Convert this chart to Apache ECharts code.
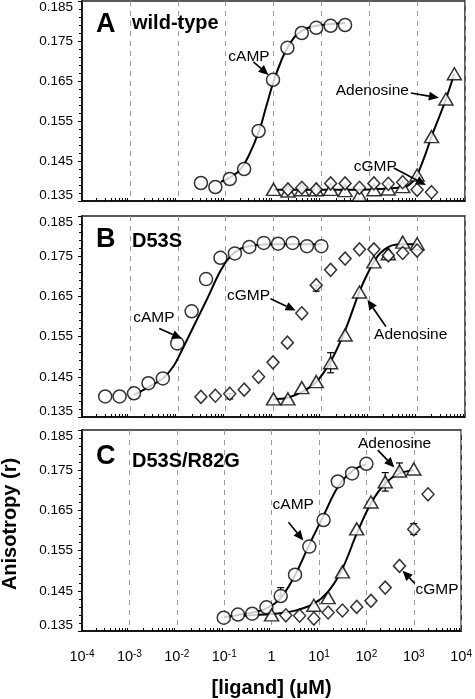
<!DOCTYPE html>
<html><head><meta charset="utf-8">
<script src="https://cdn.jsdelivr.net/npm/echarts@6/dist/echarts.min.js"></script>
<style>html,body{margin:0;padding:0;background:#fff;}#c{width:475px;height:699px;}</style>
</head><body><div id="c"></div>
<script>
// ---------------- DATA ----------------
// Panel A : wild-type
const A_cAMP_x = [0.0305, 0.061, 0.122, 0.244, 0.488, 0.977, 1.95, 3.9, 7.8, 15.6, 31.25];
const A_cAMP_y = [0.1395, 0.1385, 0.1405, 0.1430, 0.1525, 0.1653, 0.1733, 0.1770, 0.1783, 0.1788, 0.1790];
const A_aden_x = [1, 2, 3.9, 7.8, 15.6, 31.25, 62.5, 125, 250, 500, 1000, 2000, 4000, 6000];
const A_aden_y = [0.1379, 0.1375, 0.1378, 0.1378, 0.1379, 0.1376, 0.1365, 0.1378, 0.1380, 0.1386, 0.1415, 0.1511, 0.1605, 0.1668];
const A_cGMP_x = [2, 3.9, 7.8, 15.6, 31.25, 62.5, 125, 250, 500, 1000, 2000];
const A_cGMP_y = [0.1379, 0.1383, 0.1379, 0.1394, 0.1394, 0.1383, 0.1394, 0.1393, 0.1397, 0.1378, 0.1372];
// fitted curves
const A_cAMP_fit_x = [0.08, 0.12, 0.2, 0.3, 0.5, 0.7, 1.0, 1.5, 2, 3, 5, 10, 31.25];
const A_cAMP_fit_y = [0.1398, 0.1408, 0.1428, 0.1462, 0.1525, 0.1585, 0.1648, 0.1705, 0.1735, 0.1765, 0.1782, 0.1790, 0.1795];
const A_aden_fit_x = [1, 10, 100, 300, 600, 800, 1000, 1500, 2000, 3000, 4000, 6000];
const A_aden_fit_y = [0.1378, 0.1378, 0.1379, 0.1382, 0.1387, 0.1398, 0.1415, 0.1468, 0.1511, 0.1565, 0.1605, 0.1668];

// Panel B : D53S
const B_cAMP_x = [0.000305, 0.00061, 0.00122, 0.00244, 0.00488, 0.00977, 0.0195, 0.039, 0.078, 0.156, 0.3125, 0.625, 1.25, 2.5, 5, 10];
const B_cAMP_y = [0.1401, 0.1401, 0.1409, 0.1434, 0.1446, 0.1533, 0.1613, 0.1693, 0.1746, 0.1757, 0.1773, 0.1783, 0.1781, 0.1783, 0.1775, 0.1775];
const B_cGMP_x = [0.0305, 0.061, 0.122, 0.244, 0.488, 0.977, 1.95, 3.9, 7.8, 15.6, 31.25, 62.5, 125, 250, 500, 1000];
const B_cGMP_y = [0.1400, 0.1403, 0.1408, 0.1418, 0.1450, 0.1486, 0.1535, 0.1608, 0.1678, 0.1716, 0.1744, 0.1767, 0.1767, 0.1752, 0.1758, 0.1764];
const B_aden_x = [1, 2, 3.9, 7.8, 15.6, 31.25, 62.5, 125, 250, 500, 1000];
const B_aden_y = [0.1395, 0.1395, 0.1423, 0.1438, 0.1485, 0.1554, 0.1661, 0.1736, 0.1756, 0.1785, 0.1781];
const B_cAMP_fit_x = [0.00122, 0.0025, 0.005, 0.008, 0.0113, 0.0214, 0.0407, 0.0776, 0.126, 0.2, 0.4, 1, 10];
const B_cAMP_fit_y = [0.1405, 0.1425, 0.1447, 0.1475, 0.1508, 0.1575, 0.1643, 0.1713, 0.1750, 0.1768, 0.1777, 0.1780, 0.1780];
const B_aden_fit_x = [1, 2, 4, 7.8, 15.6, 31.25, 62.5, 100, 150, 210, 300, 500, 1000];
const B_aden_fit_y = [0.1395, 0.1398, 0.1413, 0.1437, 0.1488, 0.1565, 0.1662, 0.1715, 0.1750, 0.1767, 0.1777, 0.1780, 0.1780];
const B_err = [[15.6, 0.1460, 0.1510], [0.122, 0.1395, 0.1408], [7.8, 0.1663, 0.1678]];

// Panel C : D53S/R82G
const C_cAMP_x = [0.098, 0.195, 0.39, 0.78, 1.56, 3.125, 6.25, 12.5, 25, 50, 100];
const C_cAMP_y = [0.1383, 0.1391, 0.1393, 0.1409, 0.1437, 0.1490, 0.1560, 0.1626, 0.1722, 0.1742, 0.1766];
const C_aden_x = [1, 7.8, 15.6, 31.25, 62.5, 125, 250, 500, 1000];
const C_aden_y = [0.1390, 0.1414, 0.1433, 0.1497, 0.1604, 0.1671, 0.1721, 0.1748, 0.1753];
const C_cGMP_x = [2, 3.9, 7.8, 15.6, 31.25, 62.5, 125, 250, 500, 1000, 2000];
const C_cGMP_y = [0.1389, 0.1388, 0.1381, 0.1396, 0.1401, 0.1410, 0.1425, 0.1458, 0.1512, 0.1603, 0.1690];
const C_cAMP_fit_x = [0.1, 0.2, 0.4, 0.8, 1.56, 3.1, 6.25, 12.5, 25, 50, 100];
const C_cAMP_fit_y = [0.1385, 0.1390, 0.1396, 0.1407, 0.1432, 0.1488, 0.1565, 0.1637, 0.1708, 0.1748, 0.1765];
const C_aden_fit_x = [0.25, 1, 3, 7.8, 15.6, 31.25, 62.5, 125, 250, 500, 1000];
const C_aden_fit_y = [0.1388, 0.1392, 0.1400, 0.1418, 0.1448, 0.1505, 0.1592, 0.1668, 0.1717, 0.1742, 0.1750];
const C_err = [[1.56, 0.1437, 0.1458], [250, 0.1698, 0.1744], [500, 0.1748, 0.1768], [1000, 0.1590, 0.1617]];

// Annotations: [textX, textY, arrowTailX, arrowTailY, arrowHeadX, arrowHeadY]
const A_notes_text = ['cAMP', 'Adenosine', 'cGMP'];
const A_notes = [[0.114, 0.1710, 0.381, 0.1698, 0.785, 0.1665], [19.9, 0.1625, 740, 0.1620, 2850, 0.1608], [47.3, 0.1435, 326, 0.14325, 1524, 0.1390]];
const B_notes_text = ['cAMP', 'cGMP', 'Adenosine'];
const B_notes = [[0.00117, 0.1596, 0.0041, 0.1570, 0.01225, 0.1545], [0.107, 0.16525, 0.865, 0.16442, 2.89, 0.1615], [126, 0.1555, 222, 0.1575, 91.7, 0.16418]];
const C_notes_text = ['Adenosine', 'cAMP', 'cGMP'];
const C_notes = [[66.4, 0.1816, 174, 0.1800, 390, 0.1757], [1.05, 0.1665, 2.27, 0.16208, 4.68, 0.1575], [1089, 0.14525, 1052, 0.14683, 581, 0.1500]];

const panelLetters = ['A', 'B', 'C'];
const panelNames = ['wild-type', 'D53S', 'D53S/R82G'];
const yMin = 0.135, yMax = 0.185, yStep = 0.01;
const xMin = 1e-4, xMax = 1e4;

// ---------------- CHART ----------------
const FONT = '"Liberation Sans", Arial, Helvetica, sans-serif';
const chart = echarts.init(document.getElementById('c'), null, {renderer: 'canvas'});
const zip = (xs, ys) => xs.map((x, i) => [x, ys[i]]);

const grids = [
  {left: 82, top: 1, width: 383, height: 200},
  {left: 82, top: 216, width: 383, height: 201},
  {left: 82, top: 430, width: 383, height: 201}
].map(g => Object.assign(g, {show: true, borderColor: '#222', borderWidth: 1.5, backgroundColor: 'transparent', containLabel: false}));

function xAxisFor(i) {
  const last = i === 2;
  return {
    type: 'log', logBase: 10, gridIndex: i, min: xMin, max: xMax, splitNumber: 8,
    axisLine: {show: true, lineStyle: {color: '#000', width: 1.5}},
    axisTick: {show: false, inside: true, length: 4},
    minorTick: {show: true, splitNumber: 9, length: 3, lineStyle: {color: '#000', width: 1}},
    splitLine: {show: true, lineStyle: {color: '#9a9a9a', width: 1, type: [5, 5]}},
    axisLabel: {
      show: last, margin: 18, color: '#000', fontFamily: FONT, fontSize: 14,
      formatter: v => {
        const e = Math.round(Math.log10(v));
        if (e === 0) return '{b|1}';
        return '{b|10}{s|' + e + '}';
      },
      rich: {
        b: {fontSize: 14.5, lineHeight: 16, fontFamily: FONT, color: '#000'},
        s: {fontSize: 10, lineHeight: 10, verticalAlign: 'top', fontFamily: FONT, color: '#000'}
      }
    },
    name: last ? '[ligand] (\u03BCM)' : '',
    nameLocation: 'middle', nameGap: 47,
    nameTextStyle: {fontFamily: FONT, fontSize: 20, fontWeight: 'bold', color: '#000'}
  };
}
function yAxisFor(i) {
  return {
    type: 'value', gridIndex: i, min: yMin, max: yMax, interval: yStep,
    axisLine: {show: true, lineStyle: {color: '#000', width: 1.5}},
    axisTick: {show: true, length: 4, lineStyle: {color: '#000', width: 1}},
    minorTick: {show: true, splitNumber: 5, length: 3, lineStyle: {color: '#000', width: 1}},
    splitLine: {show: false},
    axisLabel: {
      margin: 9, color: '#000', fontFamily: FONT, fontSize: 13.5,
      formatter: v => {
        const s = v.toFixed(3);
        if (Math.abs(v - yMax) < 1e-9) return '{t|' + s + '}';
        if (Math.abs(v - yMin) < 1e-9) return '{d|' + s + '}';
        return s;
      },
      rich: {
        t: {padding: [12, 0, 0, 0], fontSize: 13.5, fontFamily: FONT, color: '#000'},
        d: {padding: [0, 0, 12, 0], fontSize: 13.5, fontFamily: FONT, color: '#000'}
      }
    }
  };
}

const markerStyle = {color: '#fff', borderColor: '#000', borderWidth: 1.5};
function scatter(i, xs, ys, kind) {
  const sym = {circle: ['circle', 13], diamond: ['diamond', [12, 13]], triangle: ['triangle', [14, 12]]}[kind];
  return {type: 'scatter', xAxisIndex: i, yAxisIndex: i, data: zip(xs, ys), symbol: sym[0], symbolSize: sym[1],
    itemStyle: markerStyle, z: kind === 'diamond' ? 6 : 5, silent: true, animation: false};
}
function fitLine(i, xs, ys) {
  return {type: 'line', xAxisIndex: i, yAxisIndex: i, data: zip(xs, ys), symbol: 'none', smooth: 0.35,
    lineStyle: {color: '#000', width: 2}, z: 3, silent: true, animation: false};
}
function errBars(i, data) {
  return {type: 'custom', xAxisIndex: i, yAxisIndex: i, data: data, z: 4, silent: true, animation: false,
    encode: {x: 0, y: [1, 2]},
    renderItem: (params, api) => {
      const x = api.value(0);
      const p1 = api.coord([x, api.value(1)]), p2 = api.coord([x, api.value(2)]);
      const cw = 3.5, st = {stroke: '#000', lineWidth: 1.2};
      return {type: 'group', children: [
        {type: 'line', shape: {x1: p1[0], y1: p1[1], x2: p2[0], y2: p2[1]}, style: st},
        {type: 'line', shape: {x1: p1[0] - cw, y1: p1[1], x2: p1[0] + cw, y2: p1[1]}, style: st},
        {type: 'line', shape: {x1: p2[0] - cw, y1: p2[1], x2: p2[0] + cw, y2: p2[1]}, style: st}
      ]};
    }};
}
function notes(i, data, texts) {
  return {type: 'custom', xAxisIndex: i, yAxisIndex: i, data: data, z: 8, silent: true, animation: false,
    encode: {x: 0, y: 1},
    renderItem: (params, api) => {
      const t = api.coord([api.value(0), api.value(1)]);
      const a = api.coord([api.value(2), api.value(3)]);
      const h = api.coord([api.value(4), api.value(5)]);
      const dx = h[0] - a[0], dy = h[1] - a[1], L = Math.sqrt(dx * dx + dy * dy);
      const ux = dx / L, uy = dy / L, hl = 10, hw = 4.5;
      const bx = h[0] - ux * hl, by = h[1] - uy * hl;
      return {type: 'group', children: [
        {type: 'line', shape: {x1: a[0], y1: a[1], x2: bx, y2: by}, style: {stroke: '#000', lineWidth: 1.6}},
        {type: 'polygon', shape: {points: [[h[0], h[1]], [bx - uy * hw, by + ux * hw], [bx + uy * hw, by - ux * hw]]}, style: {fill: '#000'}},
        {type: 'text', x: t[0], y: t[1], style: {text: texts[params.dataIndex], fill: '#000', font: '15.5px ' + FONT, align: 'left', verticalAlign: 'middle', textAlign: 'left', textVerticalAlign: 'middle'}}
      ]};
    }};
}

const series = [
  fitLine(0, A_cAMP_fit_x, A_cAMP_fit_y), fitLine(0, A_aden_fit_x, A_aden_fit_y),
  scatter(0, A_cAMP_x, A_cAMP_y, 'circle'), scatter(0, A_aden_x, A_aden_y, 'triangle'), scatter(0, A_cGMP_x, A_cGMP_y, 'diamond'),
  notes(0, A_notes, A_notes_text),

  fitLine(1, B_cAMP_fit_x, B_cAMP_fit_y), fitLine(1, B_aden_fit_x, B_aden_fit_y), errBars(1, B_err),
  scatter(1, B_cAMP_x, B_cAMP_y, 'circle'), scatter(1, B_aden_x, B_aden_y, 'triangle'), scatter(1, B_cGMP_x, B_cGMP_y, 'diamond'),
  notes(1, B_notes, B_notes_text),

  fitLine(2, C_cAMP_fit_x, C_cAMP_fit_y), fitLine(2, C_aden_fit_x, C_aden_fit_y), errBars(2, C_err),
  scatter(2, C_cAMP_x, C_cAMP_y, 'circle'), scatter(2, C_aden_x, C_aden_y, 'triangle'), scatter(2, C_cGMP_x, C_cGMP_y, 'diamond'),
  notes(2, C_notes, C_notes_text)
];

const letterY = [25, 240, 457];
const nameY = [23, 241.5, 461];
const graphics = [];
for (let i = 0; i < 3; i++) {
  graphics.push({type: 'text', x: 96, y: letterY[i], z: 10, style: {text: panelLetters[i], font: 'bold 27px ' + FONT, fill: '#000', verticalAlign: 'middle', textVerticalAlign: 'middle'}});
  graphics.push({type: 'text', x: 132, y: nameY[i], z: 10, style: {text: panelNames[i], font: 'bold 20px ' + FONT, fill: '#000', verticalAlign: 'middle', textVerticalAlign: 'middle'}});
}
graphics.push({type: 'text', x: 10, y: 524, rotation: Math.PI / 2, z: 10,
  style: {text: 'Anisotropy (r)', font: 'bold 20px ' + FONT, fill: '#000', align: 'center', verticalAlign: 'middle', textAlign: 'center', textVerticalAlign: 'middle'}});

chart.setOption({
  animation: false,
  backgroundColor: '#fff',
  textStyle: {fontFamily: FONT},
  grid: grids,
  xAxis: [0, 1, 2].map(xAxisFor),
  yAxis: [0, 1, 2].map(yAxisFor),
  series: series,
  graphic: graphics
});
</script></body></html>
